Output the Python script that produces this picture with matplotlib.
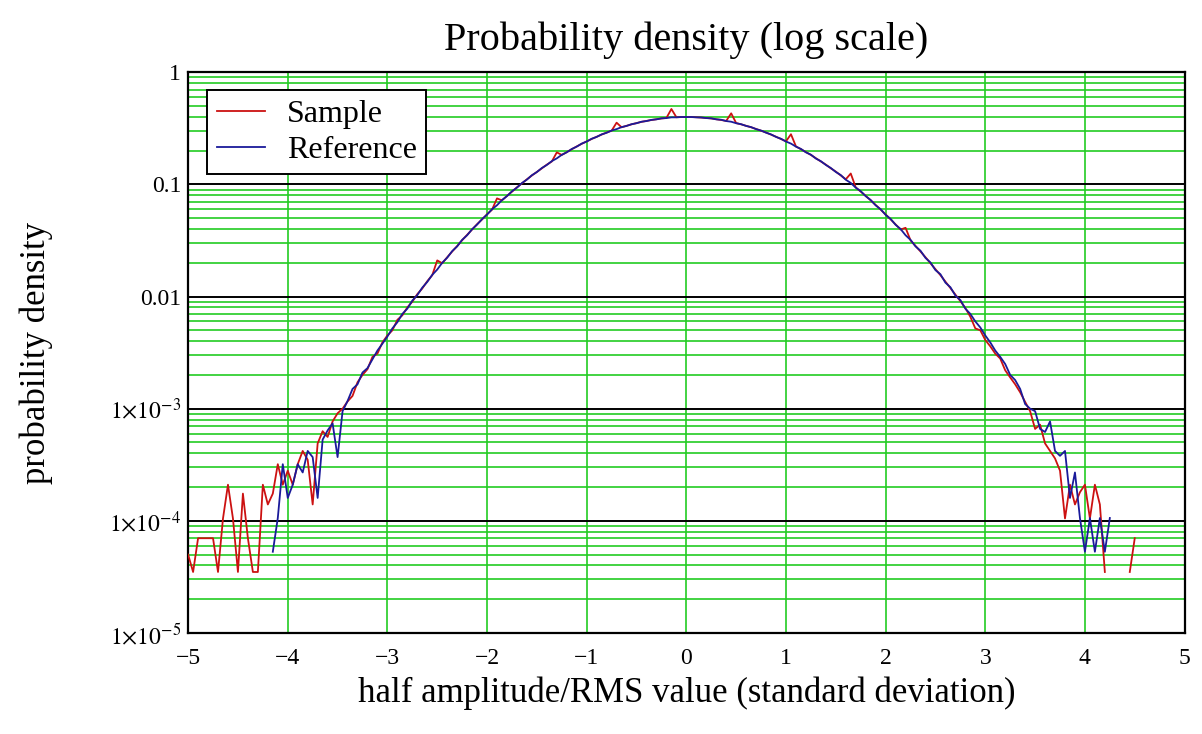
import numpy as np
import matplotlib
matplotlib.use("Agg")
import matplotlib.pyplot as plt
from matplotlib.ticker import FixedLocator, NullFormatter

plt.rcParams['font.family'] = ['Liberation Serif', 'DejaVu Serif']
plt.rcParams['mathtext.fontset'] = 'stix'

# bin centres (standard deviations)
x_bins = [
    -5.00, -4.95, -4.90, -4.85, -4.80, -4.75, -4.70, -4.65, -4.60, -4.55,
    -4.50, -4.45, -4.40, -4.35, -4.30, -4.25, -4.20, -4.15, -4.10, -4.05,
    -4.00, -3.95, -3.90, -3.85, -3.80, -3.75, -3.70, -3.65, -3.60, -3.55,
    -3.50, -3.45, -3.40, -3.35, -3.30, -3.25, -3.20, -3.15, -3.10, -3.05,
    -3.00, -2.95, -2.90, -2.85, -2.80, -2.75, -2.70, -2.65, -2.60, -2.55,
    -2.50, -2.45, -2.40, -2.35, -2.30, -2.25, -2.20, -2.15, -2.10, -2.05,
    -2.00, -1.95, -1.90, -1.85, -1.80, -1.75, -1.70, -1.65, -1.60, -1.55,
    -1.50, -1.45, -1.40, -1.35, -1.30, -1.25, -1.20, -1.15, -1.10, -1.05,
    -1.00, -0.95, -0.90, -0.85, -0.80, -0.75, -0.70, -0.65, -0.60, -0.55,
    -0.50, -0.45, -0.40, -0.35, -0.30, -0.25, -0.20, -0.15, -0.10, -0.05,
    0.00, 0.05, 0.10, 0.15, 0.20, 0.25, 0.30, 0.35, 0.40, 0.45,
    0.50, 0.55, 0.60, 0.65, 0.70, 0.75, 0.80, 0.85, 0.90, 0.95,
    1.00, 1.05, 1.10, 1.15, 1.20, 1.25, 1.30, 1.35, 1.40, 1.45,
    1.50, 1.55, 1.60, 1.65, 1.70, 1.75, 1.80, 1.85, 1.90, 1.95,
    2.00, 2.05, 2.10, 2.15, 2.20, 2.25, 2.30, 2.35, 2.40, 2.45,
    2.50, 2.55, 2.60, 2.65, 2.70, 2.75, 2.80, 2.85, 2.90, 2.95,
    3.00, 3.05, 3.10, 3.15, 3.20, 3.25, 3.30, 3.35, 3.40, 3.45,
    3.50, 3.55, 3.60, 3.65, 3.70, 3.75, 3.80, 3.85, 3.90, 3.95,
    4.00, 4.05, 4.10, 4.15, 4.20, 4.25, 4.30, 4.35, 4.40, 4.45,
    4.50,
]

# measured histogram (None = empty bin)
sample = [
    5.0e-5, 3.5e-5, 7.0e-5, 7.0e-5, 7.0e-5, 7.0e-5, 3.5e-5, 1.05e-4, 2.1e-4, 1.05e-4,
    3.5e-5, 1.75e-4, 7.0e-5, 3.5e-5, 3.5e-5, 2.1e-4, 1.4e-4, 1.75e-4, 3.2e-4, 2.1e-4,
    2.8e-4, 2.1e-4, 3.2e-4, 4.2e-4, 3.5e-4, 1.4e-4, 4.9e-4, 6.3e-4, 5.6e-4, 7.7e-4,
    9.1e-4, 1.0e-3, 1.16e-3, 1.30e-3, 1.72e-3, 2.0e-3, 2.25e-3, 2.9e-3, 3.1e-3, 3.9e-3,
    4.5e-3, 5.0e-3, 6.2e-3, 6.8e-3, 8.0e-3, 9.0e-3, 1.05e-2, 1.18e-2, 1.37e-2, 1.55e-2,
    2.1e-2, 1.98e-2, 2.24e-2, 2.52e-2, 2.82e-2, 3.18e-2, 3.55e-2, 3.95e-2, 4.42e-2, 4.87e-2,
    5.42e-2, 5.95e-2, 7.5e-2, 7.2e-2, 7.9e-2, 8.6e-2, 9.42e-2, 0.102, 0.111, 0.120,
    0.129, 0.139, 0.150, 0.160, 0.193, 0.183, 0.194, 0.206, 0.218, 0.230,
    0.242, 0.254, 0.266, 0.278, 0.290, 0.301, 0.355, 0.323, 0.333, 0.343,
    0.352, 0.361, 0.368, 0.375, 0.381, 0.387, 0.391, 0.470, 0.397, 0.398,
    0.399, 0.398, 0.397, 0.394, 0.391, 0.387, 0.381, 0.375, 0.368, 0.430,
    0.352, 0.343, 0.333, 0.323, 0.312, 0.301, 0.290, 0.278, 0.266, 0.254,
    0.242, 0.280, 0.218, 0.206, 0.194, 0.183, 0.171, 0.160, 0.150, 0.139,
    0.130, 0.120, 0.111, 0.125, 0.094, 0.0863, 0.079, 0.0721, 0.0656, 0.0596,
    0.054, 0.0488, 0.044, 0.0396, 0.041, 0.0317, 0.0283, 0.0252, 0.0224, 0.0198,
    0.0175, 0.0155, 0.0136, 0.0119, 0.0104, 0.0091, 0.0079, 0.0066, 0.0052, 0.0050,
    0.0041, 0.0036, 0.0031, 0.0028, 0.0022, 0.0019, 0.00165, 0.0014, 0.00115, 0.00095,
    6.6e-4, 7.2e-4, 4.9e-4, 4.2e-4, 3.6e-4, 2.8e-4, 1.05e-4, 2.1e-4, 1.4e-4, 1.8e-4,
    2.1e-4, 1.05e-4, 2.1e-4, 1.4e-4, 3.5e-5, None, None, None, None, 3.5e-5,
    7.0e-5,
]

# reference distribution
reference = [
    None, None, None, None, None, None, None, None, None, None,
    None, None, None, None, None, None, None, 5.3e-5, 1.06e-4, 3.2e-4,
    1.6e-4, 2.1e-4, 3.2e-4, 2.7e-4, 4.2e-4, 3.7e-4, 1.6e-4, 5.3e-4, 6.4e-4, 7.4e-4,
    3.7e-4, 9.5e-4, 1.17e-3, 1.5e-3, 1.65e-3, 2.1e-3, 2.3e-3, 2.75e-3, 3.3e-3, 3.8e-3,
    4.4e-3, 5.2e-3, 5.9e-3, 7.0e-3, 7.8e-3, 9.2e-3, 1.03e-2, 1.2e-2, 1.35e-2, 1.56e-2,
    1.74e-2, 2.0e-2, 2.22e-2, 2.54e-2, 2.8e-2, 3.2e-2, 3.52e-2, 3.98e-2, 4.38e-2, 4.9e-2,
    5.38e-2, 6.0e-2, 6.52e-2, 7.25e-2, 7.86e-2, 8.68e-2, 9.35e-2, 0.1028, 0.1103, 0.1207,
    0.1288, 0.1400, 0.1490, 0.1612, 0.1706, 0.1835, 0.1932, 0.2068, 0.2170, 0.2310,
    0.2410, 0.2552, 0.2650, 0.2792, 0.2885, 0.3022, 0.3110, 0.3240, 0.3320, 0.3440,
    0.3510, 0.3620, 0.3670, 0.3760, 0.3800, 0.3880, 0.3900, 0.3960, 0.3960, 0.3990,
    0.3980, 0.3990, 0.3960, 0.3950, 0.3900, 0.3880, 0.3800, 0.3770, 0.3670, 0.3620,
    0.3510, 0.3440, 0.3320, 0.3240, 0.3110, 0.3020, 0.2890, 0.2790, 0.2650, 0.2550,
    0.2410, 0.2310, 0.2170, 0.2070, 0.1930, 0.1840, 0.1700, 0.1610, 0.1490, 0.1400,
    0.1290, 0.1210, 0.1100, 0.1030, 0.0935, 0.0870, 0.0785, 0.0725, 0.0650, 0.0600,
    0.0535, 0.0492, 0.0436, 0.0400, 0.0352, 0.0320, 0.0280, 0.0256, 0.0221, 0.0201,
    0.0172, 0.0158, 0.0133, 0.0121, 0.0102, 0.0093, 0.0078, 0.0070, 0.0060, 0.0053,
    0.0045, 0.0039, 0.0033, 0.0029, 0.0025, 0.0020, 0.0018, 0.0015, 0.0011, 0.0010,
    9.5e-4, 6.6e-4, 6.2e-4, 7.7e-4, 4.2e-4, 3.8e-4, 4.2e-4, 1.6e-4, 2.7e-4, 1.06e-4,
    5.3e-5, 1.06e-4, 5.3e-5, 1.06e-4, 5.3e-5, 1.06e-4, None, None, None, None,
    None,
]

y_ticks = [1e-5, 1e-4, 1e-3, 1e-2, 1e-1, 1]
y_tick_labels = [r'$1{\times}10^{-5}$', r'$1{\times}10^{-4}$', r'$1{\times}10^{-3}$',
                 '0.01', '0.1', '1']
x_ticks = [-5, -4, -3, -2, -1, 0, 1, 2, 3, 4, 5]

x = np.array(x_bins, dtype=float)
ys = np.array(sample, dtype=float)
yr = np.array(reference, dtype=float)

fig = plt.figure(figsize=(12.02, 7.34), dpi=100)
ax = fig.add_axes([0.1565, 0.1376, 0.829, 0.764])

green = '#22cc22'
ax.plot(x, ys, color='#cc1111', lw=1.3, label='Sample', zorder=3)
ax.plot(x, yr, color='#1a1a9a', lw=1.3, label='Reference', zorder=4)

ax.set_yscale('log')
ax.set_xlim(-5, 5)
ax.set_ylim(1e-5, 1)

ax.yaxis.set_major_locator(FixedLocator(y_ticks))
ax.set_yticklabels(y_tick_labels)
minor = [m * d for d in [1e-5, 1e-4, 1e-3, 1e-2, 1e-1] for m in range(2, 10)]
ax.yaxis.set_minor_locator(FixedLocator(minor))
ax.yaxis.set_minor_formatter(NullFormatter())
ax.set_xticks(x_ticks)
ax.set_xticklabels([f'{t}'.replace('-', '\u2212') for t in x_ticks])

ax.set_axisbelow(True)
ax.grid(which='minor', axis='y', color=green, lw=1.2)
ax.grid(which='major', axis='y', color='black', lw=1.4)
ax.grid(which='major', axis='x', color=green, lw=1.2)

ax.tick_params(which='both', length=0, labelsize=17)
ax.tick_params(axis='x', pad=11)
ax.tick_params(axis='y', pad=5)
for s in ax.spines.values():
    s.set_linewidth(1.6)
    s.set_color('black')

ax.set_title('Probability density (log scale)', fontsize=29, pad=16)
ax.set_xlabel('half amplitude/RMS value (standard deviation)', fontsize=25, labelpad=5)
ax.set_ylabel('probability density', fontsize=25, labelpad=40)

leg = ax.legend(loc='upper left', bbox_to_anchor=(0.019, 0.968), borderaxespad=0,
                fontsize=23, fancybox=False, framealpha=1, edgecolor='black',
                handlelength=1.5, handletextpad=0.7, borderpad=0.3, labelspacing=0.2)
leg.get_frame().set_linewidth(1.4)

fig.savefig('out.png', dpi=100)
